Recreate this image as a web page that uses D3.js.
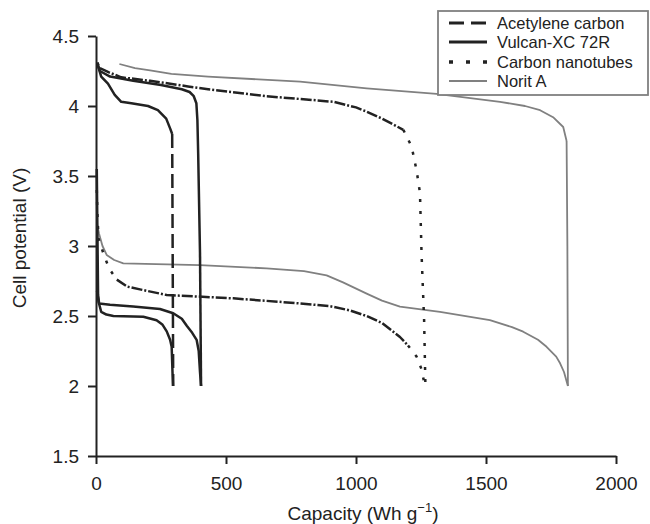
<!DOCTYPE html>
<meta charset="utf-8">
<head>
	<title>Cell potential vs capacity</title>
</head>

<style>

body{
	margin: 0;
	background-color: #fff;
}

svg{
	font-family: "Liberation Sans", Arial, sans-serif;
}

.axis path, .axis line {
	stroke: #222;
	stroke-width: 2;
}

.axis text {
	font-size: 19px;
	fill: #222;
}

</style>

<body>

<svg class="chart" width="650" height="524"></svg>

<script src="https://cdnjs.cloudflare.com/ajax/libs/d3/7.8.5/d3.min.js"></script>
<script>

// capacity (Wh/g), cell potential (V)
var acetyleneUpper = [
	[5, 4.30], [12, 4.26], [20, 4.21], [46, 4.16], [72, 4.08], [97, 4.03],
	[136, 4.02], [200, 4.00], [238, 3.97], [270, 3.91], [285, 3.84], [293, 3.80], [297, 2.00]
];
var acetyleneLower = [
	[4, 2.68], [10, 2.60], [20, 2.53], [40, 2.51], [67, 2.50], [182, 2.495],
	[233, 2.47], [255, 2.44], [272, 2.39], [285, 2.33], [291, 2.28], [296, 2.00]
];
var vulcanUpper = [
	[5, 4.31], [15, 4.25], [54, 4.21], [143, 4.18], [250, 4.15], [330, 4.12],
	[360, 4.10], [376, 4.07], [386, 4.02], [390, 3.90], [393, 3.66], [400, 2.95], [404, 2.00]
];
var vulcanLower = [
	[3, 3.55], [6, 3.00], [8, 2.65], [12, 2.59], [54, 2.58], [143, 2.567],
	[246, 2.55], [297, 2.52], [330, 2.48], [349, 2.43], [370, 2.38], [387, 2.33],
	[395, 2.25], [400, 2.10], [404, 2.00]
];
var cntUpper = [
	[5, 4.31], [15, 4.27], [50, 4.24], [97, 4.205], [208, 4.18], [354, 4.14],
	[431, 4.12], [656, 4.07], [850, 4.04], [913, 4.03], [1000, 3.99], [1041, 3.96],
	[1100, 3.91], [1182, 3.83], [1214, 3.71], [1233, 3.54], [1246, 3.38],
	[1252, 2.95], [1262, 2.47], [1267, 2.00]
];
var cntLower = [
	[3, 3.40], [6, 3.20], [10, 3.05], [28, 2.95], [50, 2.84], [80, 2.76],
	[120, 2.71], [169, 2.69], [272, 2.65], [528, 2.626], [785, 2.59], [900, 2.57],
	[977, 2.54], [1041, 2.50], [1100, 2.45], [1169, 2.35], [1200, 2.29],
	[1233, 2.21], [1252, 2.12], [1265, 2.00]
];
var noritUpper = [
	[90, 4.30], [150, 4.27], [208, 4.255], [290, 4.23], [431, 4.21], [785, 4.174],
	[1041, 4.126], [1310, 4.086], [1554, 4.03], [1650, 4.00], [1708, 3.97],
	[1758, 3.92], [1797, 3.85], [1810, 3.75], [1813, 3.00], [1815, 2.00]
];
var noritLower = [
	[5, 3.15], [11.5, 3.09], [25, 3.00], [41, 2.936], [70, 2.90], [105, 2.876],
	[400, 2.864], [656, 2.84], [800, 2.82], [887, 2.79], [950, 2.74], [1041, 2.66],
	[1100, 2.61], [1169, 2.567], [1323, 2.53], [1515, 2.471], [1600, 2.42],
	[1643, 2.388], [1700, 2.33], [1733, 2.28], [1770, 2.21], [1785, 2.162],
	[1800, 2.10], [1815, 2.00]
];

var seriesNames = ["Acetylene carbon", "Vulcan-XC 72R", "Carbon nanotubes", "Norit A"];
var xTicks = [0, 500, 1000, 1500, 2000];
var yTicks = [1.5, 2, 2.5, 3, 3.5, 4, 4.5];

// line looks: flat parts and steep drops are drawn differently (like the excel print)
var series = [
	{name: seriesNames[3], curves: [noritUpper, noritLower], color: "#808080", width: 1.8, flat: null, steep: null, ratio: 99, minLen: 0},
	{name: seriesNames[0], curves: [acetyleneUpper, acetyleneLower], color: "#222", width: 2.5, flat: null, steep: "14,6", ratio: 5, minLen: 60},
	{name: seriesNames[1], curves: [vulcanUpper, vulcanLower], color: "#222", width: 2.5, flat: null, steep: null, ratio: 99, minLen: 0},
	{name: seriesNames[2], curves: [cntUpper, cntLower], color: "#222", width: 2.5, flat: "11,2,2,2", steep: "3,9", ratio: 1.2, minLen: 0}
];

var svg = d3.select(".chart");

var x = d3.scaleLinear().domain([0, 2000]).range([96, 616]);
var y = d3.scaleLinear().domain([1.5, 4.5]).range([456, 36]);

svg.append("g")
	.attr("class", "axis")
	.attr("transform", "translate(0,456)")
	.call(d3.axisBottom(x).tickValues(xTicks).tickSize(8).tickSizeOuter(0).tickPadding(13).tickFormat(function(d){ return String(d); }));

svg.append("g")
	.attr("class", "axis")
	.attr("transform", "translate(96,0)")
	.call(d3.axisLeft(y).tickValues(yTicks).tickSize(8).tickSizeOuter(0).tickPadding(9).tickFormat(function(d){ return String(d); }));

svg.selectAll(".axis text").attr("font-size", 19);

// axis titles
svg.append("text")
	.attr("transform", "translate(26,238) rotate(-90)")
	.attr("text-anchor", "middle")
	.attr("font-size", 19)
	.attr("fill", "#222")
	.text("Cell potential (V)");

var xt = svg.append("text")
	.attr("x", 363)
	.attr("y", 520)
	.attr("text-anchor", "middle")
	.attr("font-size", 19)
	.attr("fill", "#222");
xt.append("tspan").text("Capacity (Wh g");
xt.append("tspan").attr("font-size", 13).attr("dy", -8).text("\u22121");
xt.append("tspan").attr("dy", 8).text(")");

var line = d3.line()
	.x(function(d){ return x(d[0]); })
	.y(function(d){ return y(d[1]); });

// split a curve into runs of flat / steep segments
function runs(pts, s){
	var out = [];
	var cur = [pts[0]];
	var curSteep = null;
	for (var i = 1; i < pts.length; i++){
		var dx = Math.abs(x(pts[i][0]) - x(pts[i-1][0]));
		var dy = Math.abs(y(pts[i][1]) - y(pts[i-1][1]));
		var steep = dy > s.ratio * dx && dy > s.minLen;
		if (curSteep !== null && steep !== curSteep){
			out.push({steep: curSteep, pts: cur});
			cur = [pts[i-1]];
		}
		cur.push(pts[i]);
		curSteep = steep;
	}
	out.push({steep: curSteep, pts: cur});
	return out;
}

series.forEach(function(s){
	s.curves.forEach(function(c){
		runs(c, s).forEach(function(r){
			svg.append("path")
				.attr("d", line(r.pts))
				.attr("fill", "none")
				.attr("stroke", s.color)
				.attr("stroke-width", s.width)
				.attr("stroke-linejoin", "round")
				.attr("stroke-dasharray", r.steep ? s.steep : s.flat);
		});
	});
});

// legend
var legend = svg.append("g");
legend.append("rect")
	.attr("x", 438)
	.attr("y", 11)
	.attr("width", 210)
	.attr("height", 84)
	.attr("fill", "#fff")
	.attr("stroke", "#808080")
	.attr("stroke-width", 1.8);

var legendRows = [
	{name: seriesNames[0], color: "#222", width: 3, dash: "15,7"},
	{name: seriesNames[1], color: "#222", width: 3, dash: null},
	{name: seriesNames[2], color: "#222", width: 3.5, dash: "4,13"},
	{name: seriesNames[3], color: "#808080", width: 1.8, dash: null}
];
var rowY = [23, 42, 62, 81];

legendRows.forEach(function(r, i){
	legend.append("line")
		.attr("x1", 449).attr("x2", 487)
		.attr("y1", rowY[i]).attr("y2", rowY[i])
		.attr("stroke", r.color)
		.attr("stroke-width", r.width)
		.attr("stroke-dasharray", r.dash);
	legend.append("text")
		.attr("x", 497)
		.attr("y", rowY[i])
		.attr("dy", "0.36em")
		.attr("font-size", 16.5)
		.attr("fill", "#222")
		.text(r.name);
});

</script>

</body>
</html>
